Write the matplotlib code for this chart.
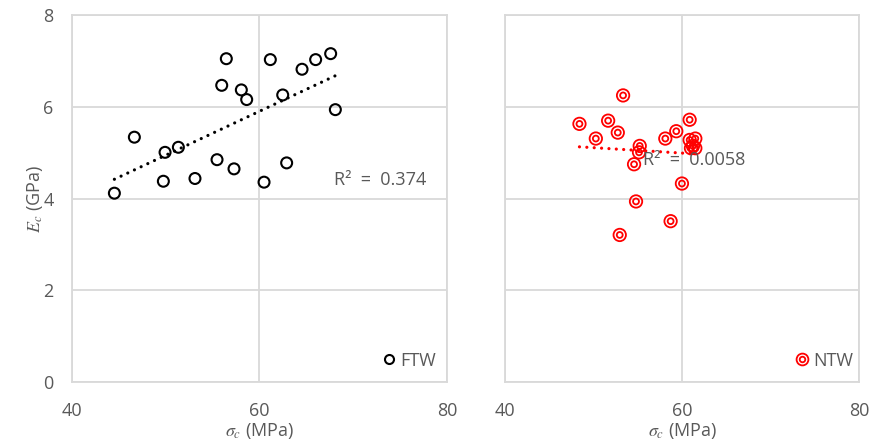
# elastic modulus vs compressive strength, FTW and NTW specimens

import matplotlib.pyplot as plt
from matplotlib.lines import Line2D
from matplotlib.legend_handler import HandlerTuple
import numpy as np

plt.rcParams["font.family"] = ["Open Sans", "DejaVu Sans"]
plt.rcParams["mathtext.fontset"] = "stix"

GREY = "#595959"
GRID = "#d9d9d9"

ftw_strength = [44.55, 46.68, 49.77, 49.95, 51.37, 53.14, 55.49, 55.99, 56.48, 57.30,
                58.08, 58.65, 60.50, 61.17, 62.49, 62.91, 64.55, 66.00, 67.60, 68.10]
ftw_modulus = [4.12, 5.34, 4.38, 5.01, 5.12, 4.44, 4.85, 6.47, 7.05, 4.65,
               6.37, 6.16, 4.36, 7.03, 6.26, 4.78, 6.82, 7.03, 7.16, 5.94]

ntw_strength = [48.38, 50.23, 51.62, 52.71, 53.31, 52.93, 54.55, 54.77, 55.19, 55.11,
                58.08, 58.68, 59.32, 59.96, 60.83, 60.83, 61.47, 60.98, 61.47, 61.20]
ntw_modulus = [5.63, 5.31, 5.70, 5.44, 6.25, 3.21, 4.75, 3.94, 5.15, 5.01,
               5.31, 3.51, 5.47, 4.33, 5.72, 5.28, 5.31, 5.10, 5.10, 5.15]

r2_labels = ["R²  =  0.374", "R²  =  0.0058"]


def style_axes(ax, show_y):
    ax.set_xlim(40, 80)
    ax.set_ylim(0, 8)
    ax.set_xticks([40, 60, 80])
    ax.set_yticks([0, 2, 4, 6, 8])
    ax.grid(True, color=GRID, linewidth=1.3)
    ax.set_axisbelow(True)
    for spine in ax.spines.values():
        spine.set_color(GRID)
        spine.set_linewidth(1.3)
    ax.tick_params(axis="x", length=0, labelsize=13, colors=GREY, pad=14)
    ax.tick_params(axis="y", length=0, labelsize=13, colors=GREY, pad=13)
    if not show_y:
        ax.tick_params(labelleft=False)
    ax.set_xlabel(r"$\sigma_c$ (MPa)", fontsize=13, color=GREY, labelpad=1)


def add_trend(ax, x, y, color):
    x = np.array(x)
    coef = np.polyfit(x, y, 1)
    xs = np.array([x.min(), x.max()])
    ax.plot(xs, np.polyval(coef, xs), color=color, linestyle=(0, (0.01, 2.3)),
            linewidth=2.3, dash_capstyle="round", zorder=2)


fig = plt.figure(figsize=(8.7, 4.44), dpi=100)
ax1 = fig.add_axes([0.0824, 0.139, 0.4314, 0.827])
ax2 = fig.add_axes([0.5808, 0.139, 0.4069, 0.827])

# left panel
style_axes(ax1, True)
ax1.set_ylabel(r"$E_c$ (GPa)", fontsize=13, color=GREY, labelpad=-1)
ax1.scatter(ftw_strength, ftw_modulus, s=62, facecolors="none",
            edgecolors="black", linewidths=1.5, zorder=3)
add_trend(ax1, ftw_strength, ftw_modulus, "black")
ax1.text(72.9, 4.41, r2_labels[0], fontsize=13, color=GREY, ha="center", va="center")
h1 = Line2D([], [], linestyle="none", marker="o", markersize=6.5,
            markerfacecolor="none", markeredgecolor="black", markeredgewidth=1.5)
ax1.legend([h1], ["FTW"], loc="lower right", bbox_to_anchor=(1.005, 0.0),
           frameon=False, fontsize=13, handlelength=0.6, handletextpad=0.35,
           labelcolor=GREY, borderaxespad=0.3)

# right panel
style_axes(ax2, False)
ax2.scatter(ntw_strength, ntw_modulus, s=80, facecolors="none",
            edgecolors="#ff0000", linewidths=1.3, zorder=3)
ax2.scatter(ntw_strength, ntw_modulus, s=18, facecolors="none",
            edgecolors="#ff0000", linewidths=1.3, zorder=3)
add_trend(ax2, ntw_strength, ntw_modulus, "#ff0000")
ax2.text(55.6, 4.84, r2_labels[1], fontsize=13, color=GREY, ha="left", va="center",
         zorder=4)
outer = Line2D([], [], linestyle="none", marker="o", markersize=8.5,
               markerfacecolor="none", markeredgecolor="#ff0000", markeredgewidth=1.3)
inner = Line2D([], [], linestyle="none", marker="o", markersize=4.0,
               markerfacecolor="none", markeredgecolor="#ff0000", markeredgewidth=1.3)
ax2.legend([(outer, inner)], ["NTW"],
           handler_map={tuple: HandlerTuple(ndivide=1, pad=0)},
           loc="lower right", bbox_to_anchor=(1.02, 0.0), frameon=False, fontsize=13,
           handlelength=0.7, handletextpad=0.3, labelcolor=GREY, borderaxespad=0.3)

fig.savefig("out.png", dpi=100)
